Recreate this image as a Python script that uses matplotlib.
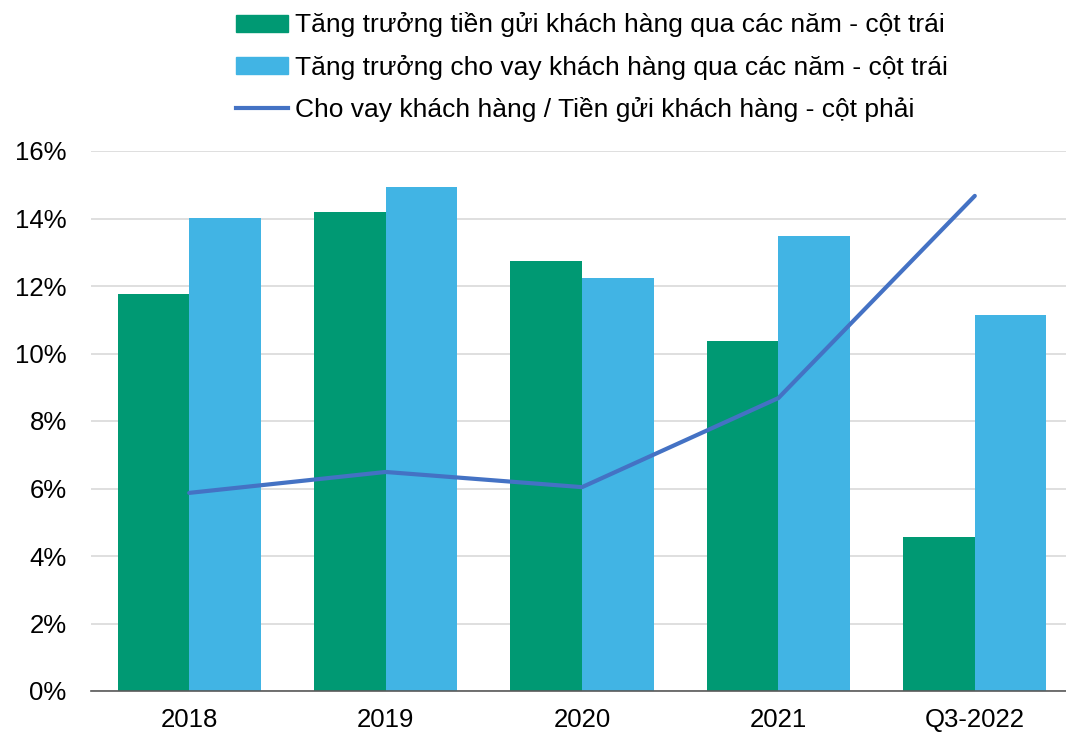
import numpy as np
import matplotlib
matplotlib.use('Agg')
import matplotlib.pyplot as plt
from matplotlib.patches import Patch
from matplotlib.lines import Line2D

plt.rcParams['font.family'] = ['Liberation Sans', 'DejaVu Sans']

categories = ['2018', '2019', '2020', '2021', 'Q3-2022']
deposit_growth = [11.76, 14.19, 12.74, 10.37, 4.56]
loan_growth = [14.01, 14.93, 12.24, 13.48, 11.14]
ldr_ratio = [5.87, 6.49, 6.04, 8.68, 14.67]

labels = ['Tăng trưởng tiền gửi khách hàng qua các năm - cột trái',
          'Tăng trưởng cho vay khách hàng qua các năm - cột trái',
          'Cho vay khách hàng / Tiền gửi khách hàng - cột phải']

green = '#009973'
blue = '#41B4E4'
line_col = '#4472C4'

fig = plt.figure(figsize=(10.66, 7.35), dpi=100)
ax = fig.add_axes([91/1066, 44/735, 982/1066, 540/735])

x = np.arange(len(categories))
w = 0.365
ax.bar(x - w/2, deposit_growth, w, color=green, zorder=2)
ax.bar(x + w/2, loan_growth, w, color=blue, zorder=2)

ax.set_xlim(-0.5, 4.5)
ax.set_ylim(0, 16)
ax.set_yticks(np.arange(0, 17, 2))
ax.set_yticklabels([f'{v}%' for v in range(0, 17, 2)])
ax.set_xticks(x)
ax.set_xticklabels(categories)
ax.tick_params(axis='y', length=0, pad=17.5, labelsize=18.5, colors='black')
ax.tick_params(axis='x', length=0, pad=12, labelsize=18.5, colors='black')
ax.grid(axis='y', color='#D9D9D9', linewidth=1.2, zorder=0)
for s in ['top', 'right', 'left']:
    ax.spines[s].set_visible(False)
ax.spines['bottom'].set_color('#595959')
ax.spines['bottom'].set_linewidth(1.2)
ax.spines['bottom'].set_zorder(3)

# right axis for the ratio line (scale not shown in the picture)
ax2 = ax.twinx()
ax2.set_ylim(0, 16)
ax2.plot(x, ldr_ratio, color=line_col, linewidth=3, solid_capstyle='round', zorder=4)
ax2.set_yticks([])
for s in ax2.spines.values():
    s.set_visible(False)

handles = [Patch(color=green), Patch(color=blue), Line2D([], [], color=line_col, linewidth=3)]
fig.legend(handles, labels, loc='upper left', bbox_to_anchor=(218/1066, 1.0 + 6/735),
           frameon=False, fontsize=19, handlelength=1.95, handleheight=0.6,
           handletextpad=0.27, labelspacing=0.66, borderaxespad=0.3)

fig.savefig('out.png', dpi=100)
